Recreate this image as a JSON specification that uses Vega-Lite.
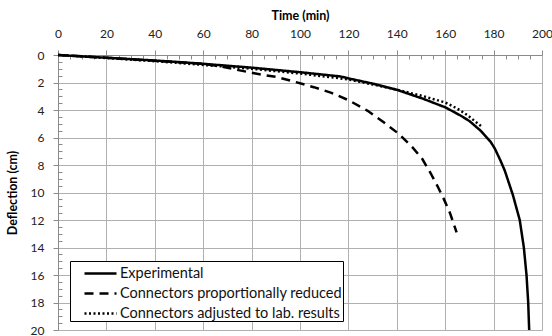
{
  "$schema": "https://vega.github.io/schema/vega-lite/v6.json",
  "width": 484,
  "height": 275,
  "autosize": {"type": "none"},
  "padding": {"left": 58, "top": 55, "right": 10, "bottom": 6},
  "config": {
    "font": "Lato",
    "view": {"stroke": null},
    "axis": {
      "labelFont": "Lato",
      "labelFontSize": 12,
      "labelColor": "#222222",
      "labelFlush": false,
      "titleFont": "Lato",
      "titleFontSize": 12.5,
      "titleFontWeight": "bold",
      "titleColor": "#000000",
      "gridColor": "#b0b0b0",
      "gridWidth": 1,
      "domainColor": "#8a8a8a",
      "tickColor": "#8a8a8a"
    }
  },
  "data": {
    "values": [
      {"t": 0, "d": 0, "series": "Experimental"},
      {"t": 20, "d": 0.2, "series": "Experimental"},
      {"t": 40, "d": 0.4, "series": "Experimental"},
      {"t": 50.6, "d": 0.52, "series": "Experimental"},
      {"t": 60, "d": 0.64, "series": "Experimental"},
      {"t": 80, "d": 0.92, "series": "Experimental"},
      {"t": 100, "d": 1.25, "series": "Experimental"},
      {"t": 116.7, "d": 1.56, "series": "Experimental"},
      {"t": 120, "d": 1.7, "series": "Experimental"},
      {"t": 130, "d": 2.08, "series": "Experimental"},
      {"t": 140, "d": 2.53, "series": "Experimental"},
      {"t": 151, "d": 3.19, "series": "Experimental"},
      {"t": 158, "d": 3.67, "series": "Experimental"},
      {"t": 160, "d": 3.8, "series": "Experimental"},
      {"t": 166.3, "d": 4.4, "series": "Experimental"},
      {"t": 170, "d": 4.8, "series": "Experimental"},
      {"t": 174.6, "d": 5.5, "series": "Experimental"},
      {"t": 178.7, "d": 6.3, "series": "Experimental"},
      {"t": 180.5, "d": 6.8, "series": "Experimental"},
      {"t": 182.9, "d": 7.7, "series": "Experimental"},
      {"t": 184.6, "d": 8.4, "series": "Experimental"},
      {"t": 186.3, "d": 9.3, "series": "Experimental"},
      {"t": 188, "d": 10.2, "series": "Experimental"},
      {"t": 190.8, "d": 12, "series": "Experimental"},
      {"t": 192.5, "d": 14, "series": "Experimental"},
      {"t": 193.6, "d": 16, "series": "Experimental"},
      {"t": 194.3, "d": 18, "series": "Experimental"},
      {"t": 194.7, "d": 20, "series": "Experimental"},
      {"t": 0, "d": 0, "series": "Connectors proportionally reduced"},
      {"t": 20, "d": 0.2, "series": "Connectors proportionally reduced"},
      {"t": 40, "d": 0.42, "series": "Connectors proportionally reduced"},
      {"t": 60, "d": 0.64, "series": "Connectors proportionally reduced"},
      {"t": 65.8, "d": 0.78, "series": "Connectors proportionally reduced"},
      {"t": 74, "d": 1.08, "series": "Connectors proportionally reduced"},
      {"t": 82.3, "d": 1.37, "series": "Connectors proportionally reduced"},
      {"t": 90.6, "d": 1.61, "series": "Connectors proportionally reduced"},
      {"t": 97.4, "d": 1.93, "series": "Connectors proportionally reduced"},
      {"t": 105.7, "d": 2.34, "series": "Connectors proportionally reduced"},
      {"t": 113, "d": 2.75, "series": "Connectors proportionally reduced"},
      {"t": 120.2, "d": 3.3, "series": "Connectors proportionally reduced"},
      {"t": 127.8, "d": 4.04, "series": "Connectors proportionally reduced"},
      {"t": 134.6, "d": 4.89, "series": "Connectors proportionally reduced"},
      {"t": 140.8, "d": 5.73, "series": "Connectors proportionally reduced"},
      {"t": 146.4, "d": 6.7, "series": "Connectors proportionally reduced"},
      {"t": 150.5, "d": 7.55, "series": "Connectors proportionally reduced"},
      {"t": 154, "d": 8.6, "series": "Connectors proportionally reduced"},
      {"t": 157, "d": 9.6, "series": "Connectors proportionally reduced"},
      {"t": 159.5, "d": 10.5, "series": "Connectors proportionally reduced"},
      {"t": 162, "d": 11.5, "series": "Connectors proportionally reduced"},
      {"t": 164.7, "d": 12.9, "series": "Connectors proportionally reduced"},
      {"t": 0, "d": 0, "series": "Connectors adjusted to lab. results"},
      {"t": 20, "d": 0.22, "series": "Connectors adjusted to lab. results"},
      {"t": 40, "d": 0.45, "series": "Connectors adjusted to lab. results"},
      {"t": 60, "d": 0.72, "series": "Connectors adjusted to lab. results"},
      {"t": 80, "d": 1.0, "series": "Connectors adjusted to lab. results"},
      {"t": 100, "d": 1.35, "series": "Connectors adjusted to lab. results"},
      {"t": 115, "d": 1.66, "series": "Connectors adjusted to lab. results"},
      {"t": 120, "d": 1.78, "series": "Connectors adjusted to lab. results"},
      {"t": 130, "d": 2.14, "series": "Connectors adjusted to lab. results"},
      {"t": 140, "d": 2.52, "series": "Connectors adjusted to lab. results"},
      {"t": 151, "d": 3.0, "series": "Connectors adjusted to lab. results"},
      {"t": 158, "d": 3.35, "series": "Connectors adjusted to lab. results"},
      {"t": 160, "d": 3.45, "series": "Connectors adjusted to lab. results"},
      {"t": 165, "d": 3.9, "series": "Connectors adjusted to lab. results"},
      {"t": 169, "d": 4.35, "series": "Connectors adjusted to lab. results"},
      {"t": 175, "d": 5.2, "series": "Connectors adjusted to lab. results"}
    ]
  },
  "layer": [
    {
      "mark": {"type": "line", "color": "black", "strokeWidth": 2.5, "strokeCap": "butt"},
      "encoding": {
        "x": {
          "field": "t", "type": "quantitative",
          "scale": {"domain": [0, 200], "nice": false, "zero": false},
          "axis": {
            "orient": "top", "title": "Time (min)",
            "values": [0, 20, 40, 60, 80, 100, 120, 140, 160, 180, 200],
            "tickSize": 5, "labelPadding": 10, "titlePadding": 5,
            "grid": true
          }
        },
        "y": {
          "field": "d", "type": "quantitative",
          "scale": {"domain": [0, 20], "reverse": true, "nice": false, "zero": false},
          "axis": {
            "orient": "left", "title": "Deflection (cm)",
            "values": [0, 2, 4, 6, 8, 10, 12, 14, 16, 18, 20],
            "tickSize": 5, "labelPadding": 9, "titlePadding": 11,
            "grid": true
          }
        },
        "strokeDash": {
          "field": "series", "type": "nominal",
          "scale": {
            "domain": ["Experimental", "Connectors proportionally reduced", "Connectors adjusted to lab. results"],
            "range": [[1, 0], [9, 6], [2, 2.5]]
          },
          "legend": {
            "orient": "none", "legendX": 12, "legendY": 206,
            "title": null,
            "fillColor": "white", "strokeColor": "black",
            "padding": 1,
            "symbolType": "M-1.6,0H1.6", "symbolSize": 400,
            "symbolStrokeWidth": 2.5, "symbolStrokeColor": "black",
            "symbolOffset": 18,
            "labelFont": "Lato", "labelFontSize": 14.5, "labelColor": "#111111",
            "labelOffset": 8, "rowPadding": 2, "labelLimit": 400
          }
        }
      }
    },
    {
      "mark": {"type": "line", "opacity": 0},
      "encoding": {
        "x": {
          "field": "t", "type": "quantitative",
          "scale": {"domain": [0, 200], "nice": false, "zero": false},
          "axis": {
            "orient": "top", "title": null, "labels": false, "domain": false, "grid": false,
            "values": [5, 10, 15, 25, 30, 35, 45, 50, 55, 65, 70, 75, 85, 90, 95, 105, 110, 115, 125, 130, 135, 145, 150, 155, 165, 170, 175, 185, 190, 195],
            "tickSize": -4
          }
        },
        "y": {
          "field": "d", "type": "quantitative",
          "scale": {"domain": [0, 20], "reverse": true, "nice": false, "zero": false},
          "axis": {
            "orient": "left", "title": null, "labels": false, "domain": false, "grid": false,
            "values": [0.5, 1, 1.5, 2.5, 3, 3.5, 4.5, 5, 5.5, 6.5, 7, 7.5, 8.5, 9, 9.5, 10.5, 11, 11.5, 12.5, 13, 13.5, 14.5, 15, 15.5, 16.5, 17, 17.5, 18.5, 19, 19.5],
            "tickSize": -4
          }
        }
      }
    }
  ],
  "resolve": {"axis": {"x": "independent", "y": "independent"}}
}
